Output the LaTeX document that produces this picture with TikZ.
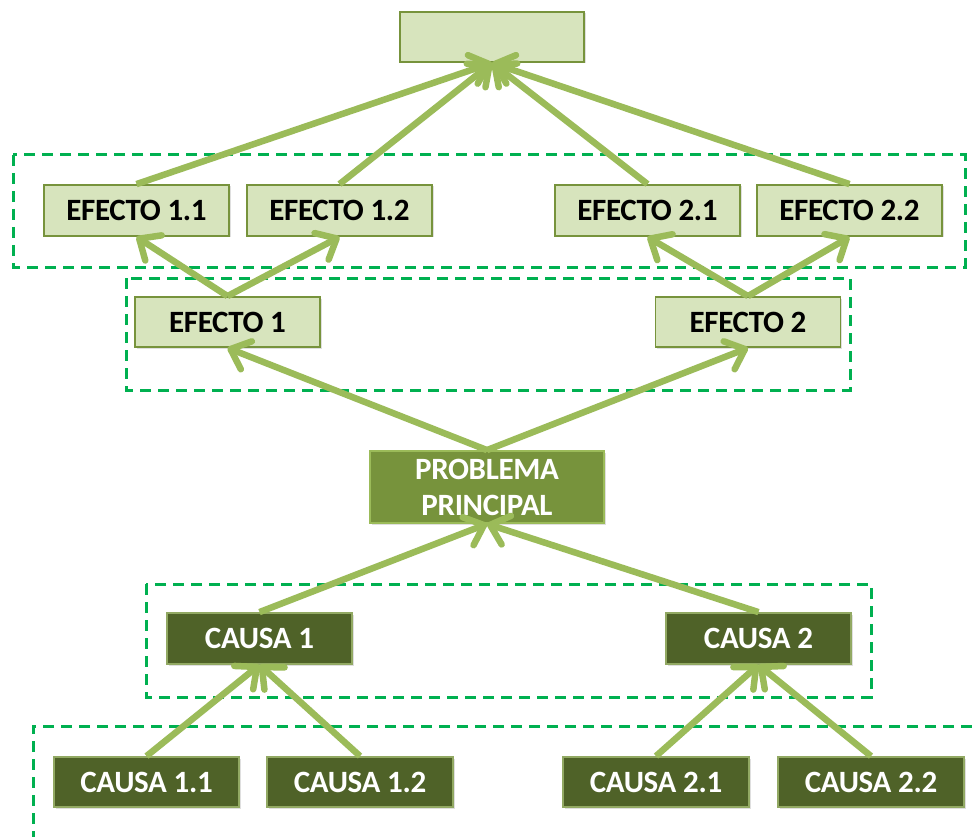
\documentclass[tikz,border=0pt]{standalone}
\usepackage{fontspec}
\setmainfont{Carlito}
\newfontfamily\boxfont[LetterSpace=-1]{Carlito}
\usetikzlibrary{arrows.meta,shadows}

\definecolor{leafgreen}{HTML}{D7E4BD}
\definecolor{olivegreen}{HTML}{77933C}
\definecolor{darkolive}{HTML}{4F6228}
\definecolor{arrowgreen}{HTML}{9BBB59}
\definecolor{groupgreen}{HTML}{00B050}

\tikzset{
  box/.style={draw, line width=1.8pt, minimum width=185pt, minimum height=51pt,
    inner sep=0pt, font=\boxfont\fontsize{31}{36}\selectfont\bfseries,
    drop shadow={shadow xshift=1.5pt, shadow yshift=-1.5pt, opacity=0.25}},
  effectbox/.style={box, fill=leafgreen, draw=olivegreen, text=black},
  causebox/.style={box, fill=darkolive, draw=olivegreen!80, text=white},
  corebox/.style={box, fill=olivegreen, draw=arrowgreen, text=white, align=center,
    minimum width=234pt, minimum height=72pt},
  link/.style={draw=arrowgreen, line width=6.5pt,
    -{Straight Barb[length=17pt,width=30pt,round]}},
  group/.style={draw=groupgreen, line width=3pt, dash pattern=on 11pt off 7pt},
}

\begin{document}
\begin{tikzpicture}[x=1pt,y=-1pt]
  \clip (0,0) rectangle (972,837);
  \fill[white] (0,0) rectangle (972,837);

  % dashed groupings
  \draw[group] (13,155) rectangle (965,267);
  \draw[group] (126,278) rectangle (850,390);
  \draw[group] (146,584) rectangle (871,697);
  \draw[group] (990,726) -- (33,726) -- (33,850);

  % goal
  \node[effectbox, minimum width=184pt, minimum height=50pt] (goal) at (492,37) {};

  % effects
  \node[effectbox] (e11) at (136.5,210.5) {EFECTO 1.1};
  \node[effectbox] (e12) at (339.5,210.5) {EFECTO 1.2};
  \node[effectbox] (e21) at (647.5,210.5) {EFECTO 2.1};
  \node[effectbox] (e22) at (849.5,210.5) {EFECTO 2.2};
  \node[effectbox, minimum height=50pt] (e1) at (227.5,322) {EFECTO 1};
  \node[effectbox, minimum height=50pt] (e2) at (748,322) {EFECTO 2};

  % core problem
  \node[corebox] (pp) at (487,487) {PROBLEMA\\PRINCIPAL};

  % causes
  \node[causebox] (c1) at (259.5,638.5) {CAUSA 1};
  \node[causebox] (c2) at (758.5,638.5) {CAUSA 2};
  \node[causebox, minimum height=50pt] (c11) at (146.5,782) {CAUSA 1.1};
  \node[causebox, minimum height=50pt, minimum width=186pt] (c12) at (360,782) {CAUSA 1.2};
  \node[causebox, minimum height=50pt, minimum width=186pt] (c21) at (656,782) {CAUSA 2.1};
  \node[causebox, minimum height=50pt, minimum width=186pt] (c22) at (871,782) {CAUSA 2.2};

  % connectors
  \draw[link] (e11.north) -- (goal.south);
  \draw[link] (e12.north) -- (goal.south);
  \draw[link] (e21.north) -- (goal.south);
  \draw[link] (e22.north) -- (goal.south);
  \draw[link] (e1.north) -- (e11.south);
  \draw[link] (e1.north) -- (e12.south);
  \draw[link] (e2.north) -- (e21.south);
  \draw[link] (e2.north) -- (e22.south);
  \draw[link] (pp.north) -- (e1.south);
  \draw[link] (pp.north) -- (e2.south);
  \draw[link] (c1.north) -- (pp.south);
  \draw[link] (c2.north) -- (pp.south);
  \draw[link] (c11.north) -- (c1.south);
  \draw[link] (c12.north) -- (c1.south);
  \draw[link] (c21.north) -- (c2.south);
  \draw[link] (c22.north) -- (c2.south);
\end{tikzpicture}
\end{document}
